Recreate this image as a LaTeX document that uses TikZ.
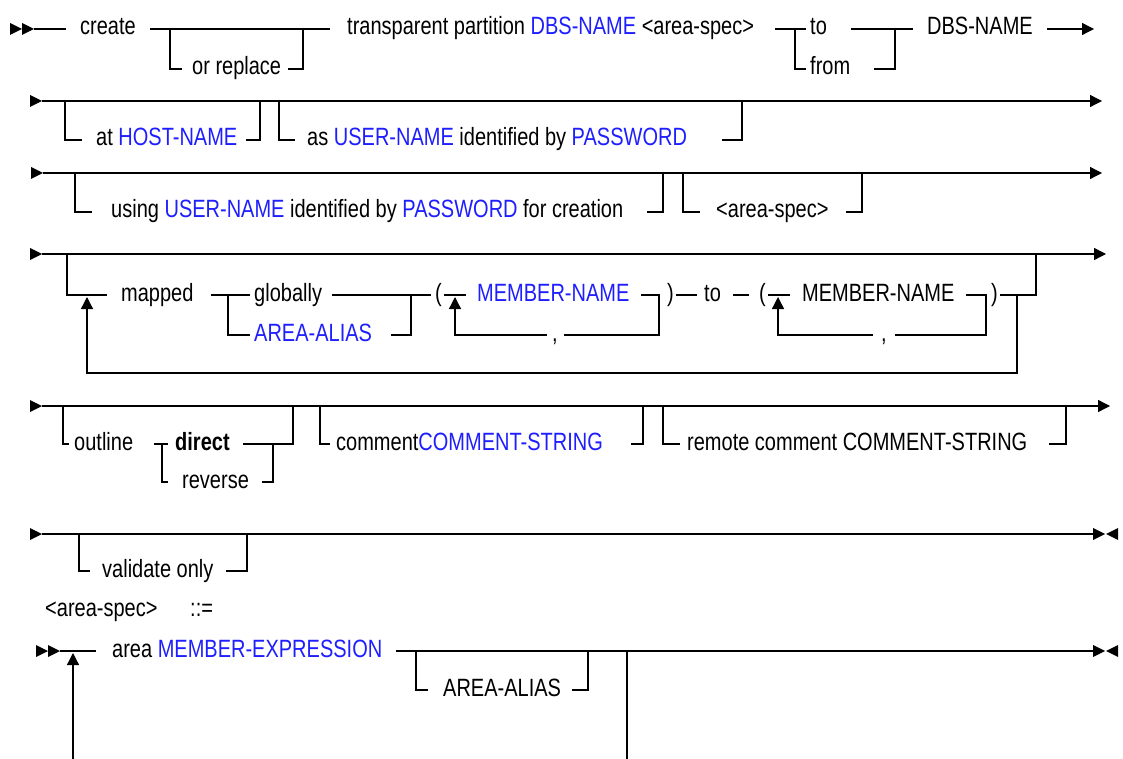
\documentclass[tikz,border=0pt]{standalone}
\usepackage{fontspec}
\setmainfont{Liberation Sans}[FakeStretch=0.8]
\usepackage{tikz}
\usetikzlibrary{arrows.meta}
\definecolor{nameblue}{RGB}{30,30,255}

\tikzset{
  rail/.style={line width=1.3pt},
  tipped/.style={rail,-{Triangle[length=12pt,width=12pt]}},
  word/.style={anchor=base west,inner sep=0pt,font=\fontsize{25}{26}\selectfont},
  param/.style={word,text=nameblue},
}
% filled heads drawn by hand: right pointing and left pointing
\newcommand{\railhead}[2]{\fill (#1-12,#2-6) -- (#1,#2) -- (#1-12,#2+6) -- cycle;}
\newcommand{\railstop}[2]{\fill (#1+12,#2-6) -- (#1,#2) -- (#1+12,#2+6) -- cycle;}
\newcommand{\nm}[1]{\textcolor{nameblue}{#1}}

\begin{document}
\begin{tikzpicture}[x=1pt,y=-1pt]
\useasboundingbox (0,0) rectangle (1123,759);

% row 1
\railhead{22}{29} \railhead{34}{29}
\draw[rail] (34,29) -- (66,29);
\node[word] (crt)    at (80,35)   {create};
\draw[rail] (150,29) -- (330,29);
\draw[rail] (170,29) |- (182,69);
\node[word] (orrep)  at (192,75)  {or replace};
\draw[rail] (288,69) -| (303,29);
\node[word] (trpart) at (347,35)  {transparent partition \nm{DBS-NAME} <area-spec>};
\draw[rail] (775,29) -- (806,29);
\node[word] (to1)    at (810,35)  {to};
\draw[rail] (851,29) -- (913,29);
\draw[rail] (795,29) |- (806,69);
\node[word] (from1)  at (810,75)  {from};
\draw[rail] (874,69) -| (895,29);
\node[word] (dbs)    at (927,35)  {DBS-NAME};
\draw[tipped] (1047,29) -- (1094,29);

% row 2
\railhead{42}{101}
\draw[tipped] (42,101) -- (1102,101);
\draw[rail] (65,101) |- (82,140);
\node[word] (athost) at (96,146) {at \nm{HOST-NAME}};
\draw[rail] (246,140) -| (260,101);
\draw[rail] (279,101) |- (295,140);
\node[word] (asuser) at (307,146) {as \nm{USER-NAME} identified by \nm{PASSWORD}};
\draw[rail] (722,140) -| (742,101);

% row 3
\railhead{43}{173}
\draw[tipped] (43,173) -- (1102,173);
\draw[rail] (75,173) |- (92,212);
\node[word] (using) at (111,218) {using \nm{USER-NAME} identified by \nm{PASSWORD} for creation};
\draw[rail] (647,212) -| (663,173);
\draw[rail] (683,173) |- (700,212);
\node[word] (spec1) at (716,218) {<area-spec>};
\draw[rail] (846,212) -| (862,173);

% row 4
\railhead{42}{254}
\draw[tipped] (42,254) -- (1106,254);
\draw[rail] (67,254) |- (107,295);
\draw[tipped] (1017,295) |- (87,373) -- (87,297);
\node[word] (mapped) at (121,301) {mapped};
\draw[rail] (211,295) -- (250,295);
\draw[rail] (228,295) |- (250,335);
\node[word] (glob)   at (254,301) {globally};
\node[param] (alias1) at (254,341) {AREA-ALIAS};
\draw[rail] (332,295) -- (431,295);
\draw[rail] (391,335) -| (411,295);
\node[word] (lpar1)  at (435,301) {(};
\draw[rail] (444,295) -- (466,295);
\draw[tipped] (547,335) -| (455,297);
\node[param] (memb1) at (477,301) {MEMBER-NAME};
\draw[rail] (641,295) -| (659,335) -- (564,335);
\node[word] (comma1) at (552,341) {,};
\node[word] (rpar1)  at (667,301) {)};
\draw[rail] (676,295) -- (697,295);
\node[word] (to2)    at (704,301) {to};
\draw[rail] (733,295) -- (749,295);
\node[word] (lpar2)  at (759,301) {(};
\draw[rail] (768,295) -- (790,295);
\draw[tipped] (873,335) -| (778,297);
\node[word] (memb2)  at (802,301) {MEMBER-NAME};
\draw[rail] (966,295) -| (986,335) -- (895,335);
\node[word] (comma2) at (881,341) {,};
\node[word] (rpar2)  at (991,301) {)};
\draw[rail] (1000,295) -| (1036,254);

% row 5
\railhead{42}{406}
\draw[tipped] (42,406) -- (1110,406);
\draw[rail] (63,406) |- (69,444);
\node[word] (outl)   at (74,450)  {outline};
\draw[rail] (154,444) -- (168,444);
\draw[rail] (162,444) |- (168,482);
\node[word] (direct) at (175,450) {\bfseries direct};
\draw[rail] (243,444) -| (293,406);
\node[word] (rev)    at (182,488) {reverse};
\draw[rail] (262,482) -| (273,444);
\draw[rail] (320,406) |- (330,444);
\node[word] (comm)   at (336,450) {comment\nm{COMMENT-STRING}};
\draw[rail] (631,444) -| (643,406);
\draw[rail] (663,406) |- (680,444);
\node[word] (remote) at (687,450) {remote comment COMMENT-STRING};
\draw[rail] (1049,444) -| (1066,406);

% row 6
\railhead{42}{534}
\draw[rail] (42,534) -- (1093,534);
\railhead{1105}{534} \railstop{1106}{534}
\draw[rail] (79,534) |- (90,571);
\node[word] (valid)  at (102,577) {validate only};
\draw[rail] (226,571) -| (247,534);

% area-spec definition
\node[word] (speclbl) at (45,616) {<area-spec>};
\node[word] (defeq)   at (190,616) {::=};
\railhead{48}{651} \railhead{60}{651}
\draw[rail] (60,651) -- (96,651);
\draw[tipped] (73,759) -- (73,653);
\node[word] (area)   at (112,657) {area \nm{MEMBER-EXPRESSION}};
\draw[rail] (396,651) -- (1093,651);
\railhead{1105}{651} \railstop{1106}{651}
\draw[rail] (416,651) |- (428,690);
\node[word] (alias2) at (443,696) {AREA-ALIAS};
\draw[rail] (572,690) -| (588,651);
\draw[rail] (627,651) -- (627,759);
\end{tikzpicture}
\end{document}
